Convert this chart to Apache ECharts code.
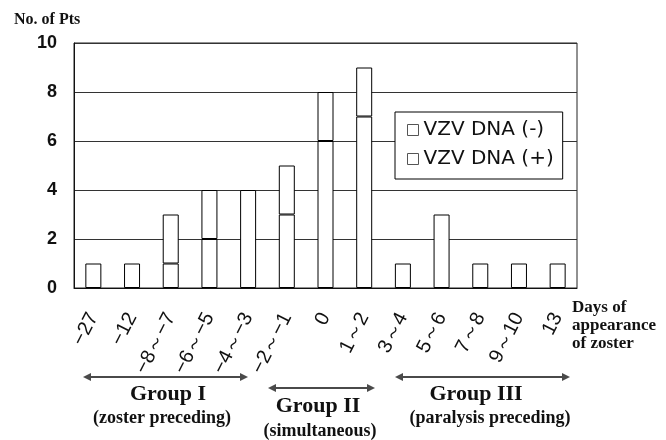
<!DOCTYPE html>
<html>
<head>
<meta charset="utf-8">
<script src="https://cdn.jsdelivr.net/npm/echarts@6/dist/echarts.min.js"></script>
<style>
html,body{margin:0;padding:0;background:#fff;}
#chart{width:666px;height:440px;}
</style>
</head>
<body>
<div id="chart"></div>
<script>
// ---- data ----
var categories = ['−27', '−12', '−8～−7', '−6～−5', '−4～−3', '−2～−1', '0', '1～2', '3～4', '5～6', '7～8', '9～10', '13'];
var dnaPositive = [1, 1, 1, 2, 4, 3, 6, 7, 1, 3, 1, 1, 1];   // lower segment
var dnaNegative = [0, 0, 2, 2, 0, 2, 2, 2, 0, 0, 0, 0, 0];   // upper segment
var yTicks = [0, 2, 4, 6, 8, 10];
var seriesNames = ['VZV DNA (-)', 'VZV DNA (+)'];
var groups = [
  {name: 'Group I', sub: '(zoster preceding)'},
  {name: 'Group II', sub: '(simultaneous)'},
  {name: 'Group III', sub: '(paralysis preceding)'}
];

var chart = echarts.init(document.getElementById('chart'), null, {renderer: 'canvas'});
var serif = '"Liberation Serif","Times New Roman",serif';
var barStyle = {color: '#ffffff', borderColor: '#000000', borderWidth: 1};

function nz(arr){ return arr.map(function(v){ return v === 0 ? null : v; }); }

function arrow(x0, x1, y){
  var c = '#4a4a4a';
  return [
    {type: 'line', shape: {x1: x0 + 4, y1: y, x2: x1 - 4, y2: y}, style: {stroke: c, lineWidth: 2}, z: 10},
    {type: 'polygon', shape: {points: [[x0, y], [x0 + 8, y - 4], [x0 + 8, y + 4]]}, style: {fill: c}, z: 10},
    {type: 'polygon', shape: {points: [[x1, y], [x1 - 8, y - 4], [x1 - 8, y + 4]]}, style: {fill: c}, z: 10}
  ];
}
function txt(s, x, y, size){
  return {type: 'text', x: x, y: y, z: 10,
    style: {text: s, align: 'center', verticalAlign: 'middle', fill: '#111',
      font: 'bold ' + size + 'px ' + serif}};
}

var graphics = [].concat(
  arrow(83, 248, 377),
  arrow(268, 375, 388),
  arrow(395, 570, 377),
  [
    txt(groups[0].name, 168, 394, 22),
    txt(groups[0].sub, 162, 418, 18),
    txt(groups[1].name, 318, 406, 22),
    txt(groups[1].sub, 320, 431, 18),
    txt(groups[2].name, 476, 394, 22),
    txt(groups[2].sub, 490, 418, 18),
    {type: 'text', x: 14, y: 20, z: 10,
      style: {text: 'No. of Pts', align: 'left', verticalAlign: 'middle', fill: '#111',
        font: 'bold 16px ' + serif}}
  ]
);

var option = {
  backgroundColor: '#ffffff',
  animation: false,
  grid: {left: 74, right: 89, top: 43, bottom: 152, show: true,
    borderColor: '#222', borderWidth: 1, backgroundColor: 'transparent'},
  legend: {
    data: seriesNames,
    orient: 'vertical',
    left: 395, top: 112,
    padding: [8, 9, 10, 12],
    itemGap: 9,
    itemWidth: 11, itemHeight: 11,
    icon: 'rect',
    backgroundColor: '#ffffff',
    borderColor: '#000', borderWidth: 1,
    itemStyle: {color: '#fff', borderColor: '#555', borderWidth: 1},
    textStyle: {fontFamily: '"DejaVu Sans", sans-serif', fontSize: 20, color: '#111', lineHeight: 20}
  },
  xAxis: {
    type: 'category',
    data: categories,
    axisLine: {show: true, lineStyle: {color: '#111', width: 1}},
    axisTick: {show: false},
    axisLabel: {rotate: 63, margin: 26, fontSize: 20, color: '#111',
      fontFamily: '"Liberation Sans", Arial, sans-serif', interval: 0},
    name: 'Days of\nappearance\nof zoster',
    nameLocation: 'end',
    nameGap: -5,
    nameTextStyle: {align: 'left', verticalAlign: 'top', fontFamily: serif, fontWeight: 'bold',
      fontSize: 17, lineHeight: 18, color: '#111', padding: [11, 0, 0, 0]},
    splitLine: {show: false}
  },
  yAxis: {
    type: 'value',
    min: yTicks[0], max: yTicks[yTicks.length - 1], interval: 2,
    axisLine: {show: true, lineStyle: {color: '#111', width: 1}},
    axisTick: {show: false},
    axisLabel: {margin: 17, fontSize: 18, fontWeight: 'bold', color: '#111',
      fontFamily: '"Liberation Sans", Arial, sans-serif'},
    splitLine: {show: true, lineStyle: {color: '#333', width: 1}}
  },
  series: [
    {name: seriesNames[1], type: 'bar', stack: 'pts', barWidth: 16,
      data: nz(dnaPositive), itemStyle: barStyle},
    {name: seriesNames[0], type: 'bar', stack: 'pts', barWidth: 16,
      data: nz(dnaNegative), itemStyle: barStyle}
  ],
  graphic: graphics
};
chart.setOption(option);
</script>
</body>
</html>
